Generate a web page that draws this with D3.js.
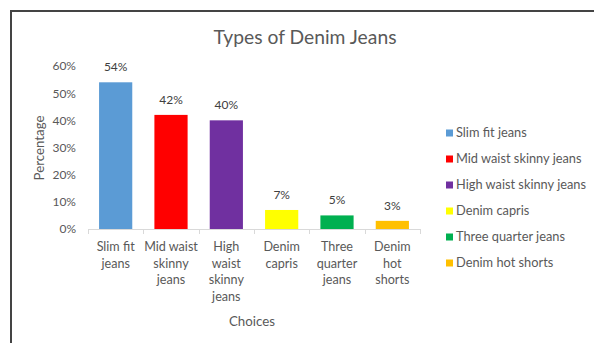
<!DOCTYPE html>
<html>
<head>
<meta charset="utf-8">
<script src="https://cdn.jsdelivr.net/npm/d3@7"></script>
<style>
  html, body { margin: 0; padding: 0; background: #fff; }
  svg { display: block; }
  text { font-family: Lato, "Open Sans", sans-serif; }
</style>
</head>
<body>
<script>
// Survey results: preferred type of denim jeans
const categories = ["Slim fit jeans", "Mid waist skinny jeans", "High waist skinny jeans",
                    "Denim capris", "Three quarter jeans", "Denim hot shorts"];
const tickLines = [["Slim fit", "jeans"], ["Mid waist", "skinny", "jeans"],
                   ["High", "waist", "skinny", "jeans"], ["Denim", "capris"],
                   ["Three", "quarter", "jeans"], ["Denim", "hot", "shorts"]];
const values = [0.54, 0.42, 0.40, 0.07, 0.05, 0.03];
const colors = ["#5B9BD5", "#FF0000", "#7030A0", "#FFFF00", "#00B050", "#FFC000"];
const yTicks = [0, 0.1, 0.2, 0.3, 0.4, 0.5, 0.6];

const W = 594, H = 343;
const svg = d3.select("body").append("svg").attr("width", W).attr("height", H);

// chart frame
svg.append("path")
  .attr("d", `M11,${H} V11 H${W}`)
  .attr("fill", "none").attr("stroke", "#444").attr("stroke-width", 2);

const x = d3.scaleBand().domain(categories).range([88, 420]).paddingInner(0.4).paddingOuter(0.2);
const y = d3.scaleLinear().domain([0, 0.6]).range([229, 66]);
const pct = d3.format(".0%");

svg.append("text").attr("x", 305).attr("y", 44).attr("text-anchor", "middle")
  .attr("font-size", 19.3).attr("fill", "#595959").text("Types of Denim Jeans");

// y axis labels
const yAxis = svg.append("g").attr("transform", "translate(76,0)")
  .call(d3.axisLeft(y).tickValues(yTicks).tickFormat(pct).tickSize(0).tickPadding(0));
yAxis.select(".domain").remove();
yAxis.selectAll("text").attr("font-size", 12).attr("fill", "#595959")
  .attr("font-family", "Lato, sans-serif");

// bars
svg.append("g").selectAll("rect").data(values).join("rect")
  .attr("x", (d, i) => x(categories[i]))
  .attr("y", d => y(d))
  .attr("width", x.bandwidth())
  .attr("height", d => y(0) - y(d))
  .attr("fill", (d, i) => colors[i]);

// value labels
svg.append("g").selectAll("text").data(values).join("text")
  .attr("x", (d, i) => x(categories[i]) + x.bandwidth() / 2)
  .attr("y", d => y(d) - 11)
  .attr("text-anchor", "middle").attr("font-size", 12).attr("fill", "#404040")
  .text(d => pct(d));

// x axis with ticks at category boundaries
const bounds = d3.range(categories.length + 1).map(i => 88 + i * (420 - 88) / categories.length);
const xg = svg.append("g");
xg.append("line").attr("x1", 88).attr("x2", 420).attr("y1", 229.5).attr("y2", 229.5)
  .attr("stroke", "#d9d9d9").attr("stroke-width", 1);
xg.selectAll("line.tk").data(bounds).join("line").attr("class", "tk")
  .attr("x1", d => Math.round(d) + 0.5).attr("x2", d => Math.round(d) + 0.5)
  .attr("y1", 229).attr("y2", 234).attr("stroke", "#d9d9d9");

// category labels
const cl = svg.append("g");
tickLines.forEach((lines, i) => {
  const cx = x(categories[i]) + x.bandwidth() / 2;
  const t = cl.append("text")
    .attr("x", cx).attr("y", 251).attr("text-anchor", "middle")
    .attr("font-size", 12.6).attr("fill", "#595959");
  lines.forEach((ln, j) => t.append("tspan")
    .attr("x", cx).attr("dy", j === 0 ? 0 : 16.6).text(ln));
});

// axis titles
svg.append("text").attr("x", 252).attr("y", 326).attr("text-anchor", "middle")
  .attr("font-size", 13.3).attr("fill", "#595959").text("Choices");
svg.append("text").attr("transform", "translate(44,148) rotate(-90)")
  .attr("text-anchor", "middle").attr("font-size", 13.3).attr("fill", "#595959").text("Percentage");

// legend
const lg = svg.append("g").selectAll("g").data(categories).join("g")
  .attr("transform", (d, i) => `translate(446,${133 + i * 26})`);
lg.append("rect").attr("x", 0).attr("y", -3.5).attr("width", 7).attr("height", 7)
  .attr("fill", (d, i) => colors[i]);
lg.append("text").attr("x", 10).attr("y", 4.2).attr("font-size", 12.8).attr("fill", "#595959")
  .text(d => d);
</script>
</body>
</html>
